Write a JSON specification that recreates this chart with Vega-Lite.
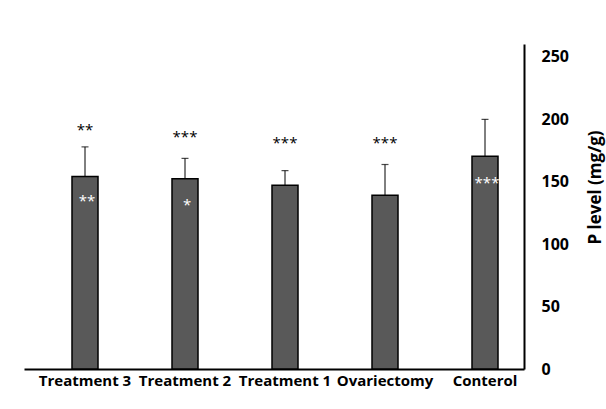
{
  "$schema": "https://vega.github.io/schema/vega-lite/v6.json",
  "width": 500,
  "height": 325,
  "autosize": {"type": "none"},
  "padding": {"left": 24, "top": 44, "right": 82, "bottom": 40},
  "background": "white",
  "config": {"view": {"stroke": null}, "font": "Open Sans"},
  "data": {
    "values": [
      {"group": "Treatment 3", "mean": 154, "upper": 177.7, "sigTop": "**", "sigTopY": 191.5, "sigIn": "**", "sigInY": 134.6},
      {"group": "Treatment 2", "mean": 152.3, "upper": 168.5, "sigTop": "***", "sigTopY": 185.6, "sigIn": "*", "sigInY": 131.5},
      {"group": "Treatment 1", "mean": 147, "upper": 158.7, "sigTop": "***", "sigTopY": 180.5, "sigIn": "", "sigInY": 0},
      {"group": "Ovariectomy", "mean": 139, "upper": 163.6, "sigTop": "***", "sigTopY": 180.8, "sigIn": "", "sigInY": 0},
      {"group": "Conterol", "mean": 170.2, "upper": 199.7, "sigTop": "", "sigTopY": 0, "sigIn": "***", "sigInY": 149}
    ]
  },
  "encoding": {
    "x": {
      "field": "group", "type": "nominal", "sort": null,
      "scale": {"paddingInner": 0.5, "paddingOuter": 0.25, "align": 0.72},
      "axis": {"title": null, "labelAngle": 0, "labelFontWeight": "bold", "labelFontSize": 15, "labelColor": "black", "ticks": false, "domainColor": "black", "domainWidth": 2, "labelPadding": 4}
    }
  },
  "layer": [
    {
      "mark": {"type": "rule", "color": "black", "strokeWidth": 1},
      "encoding": {
        "y": {"field": "mean", "type": "quantitative"},
        "y2": {"field": "upper"}
      }
    },
    {
      "mark": {"type": "tick", "color": "black", "size": 7, "thickness": 1.2},
      "encoding": {"y": {"field": "upper", "type": "quantitative"}}
    },
    {
      "mark": {"type": "bar", "size": 26, "fill": "#595959", "stroke": "black", "strokeWidth": 1.5},
      "encoding": {
        "y": {
          "field": "mean", "type": "quantitative",
          "scale": {"domain": [0, 250]},
          "axis": {"orient": "right", "values": [0, 50, 100, 150, 200, 250], "grid": false, "ticks": false, "domainColor": "black", "domainWidth": 2, "labelPadding": 17, "labelFontWeight": "bold", "labelFontSize": 16, "labelColor": "black", "title": "P level (mg/g)", "titleFontSize": 17, "titleFontWeight": "bold", "titleColor": "black", "titleAngle": 270, "titlePadding": 36, "titleY": 143}
        }
      }
    },
    {
      "mark": {"type": "text", "fontSize": 15, "color": "black", "baseline": "middle"},
      "encoding": {"y": {"field": "sigTopY", "type": "quantitative"}, "text": {"field": "sigTop"}}
    },
    {
      "mark": {"type": "text", "fontSize": 15, "color": "white", "baseline": "middle", "dx": 2},
      "encoding": {"y": {"field": "sigInY", "type": "quantitative"}, "text": {"field": "sigIn"}}
    }
  ]
}
